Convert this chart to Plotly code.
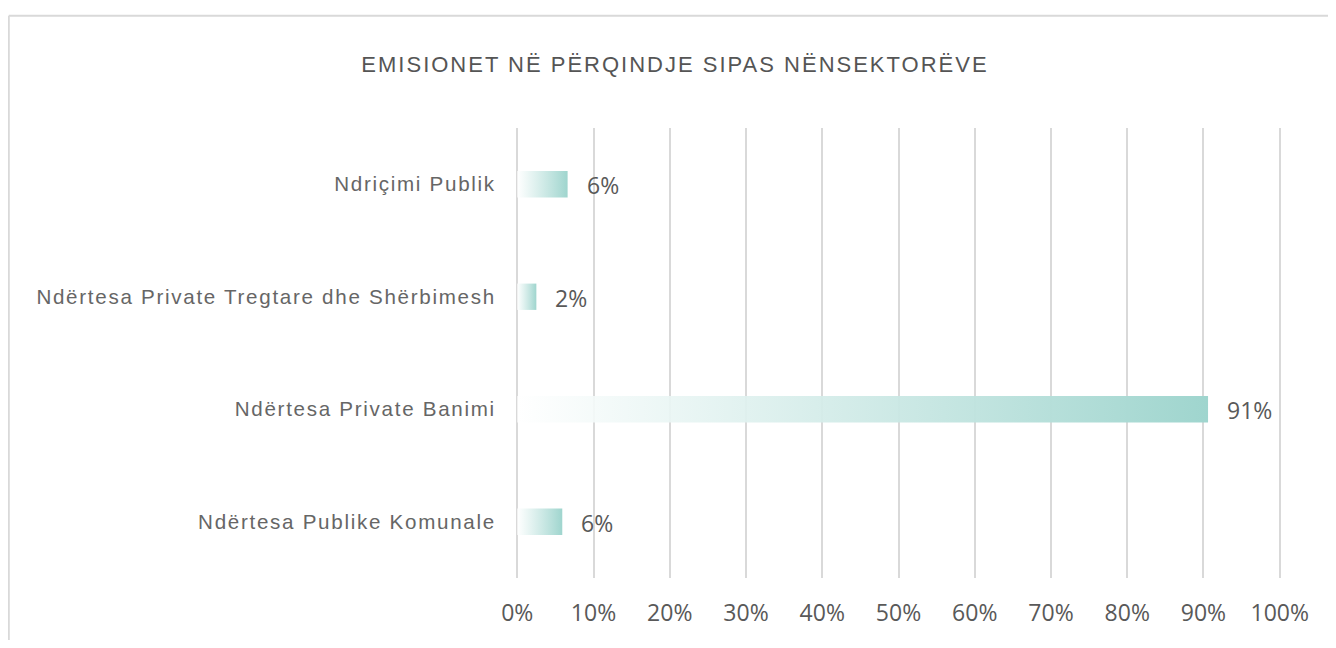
import plotly.graph_objects as go

# Emissions share by sub-sector (%), bottom to top
categories = [
    "Ndërtesa Publike Komunale",
    "Ndërtesa Private Banimi",
    "Ndërtesa Private Tregtare dhe Shërbimesh",
    "Ndriçimi Publik",
]
values = [5.9, 90.6, 2.5, 6.6]
labels = ["6%", "91%", "2%", "6%"]
x_ticks = list(range(0, 101, 10))
x_ticktext = [f"{t}%" for t in x_ticks]

half = 0.117  # half bar thickness in category units
bar_scale = [[0, "rgba(255,255,255,0.9)"], [1, "#9fd5ce"]]


def spaced(s, px):
    return f'<span style="letter-spacing:{px}px">{s}</span>'


fig = go.Figure()

for i, (v, lab) in enumerate(zip(values, labels)):
    fig.add_trace(go.Scatter(
        x=[0, v, v, 0, 0],
        y=[i - half, i - half, i + half, i + half, i - half],
        mode="lines",
        line=dict(width=0),
        fill="toself",
        fillgradient=dict(type="horizontal", colorscale=bar_scale),
        hoverinfo="skip",
        showlegend=False,
    ))
    fig.add_annotation(
        x=v, y=i, text=lab, showarrow=False,
        xanchor="left", xshift=17, yshift=-1,
        font=dict(family="Open Sans", size=23, color="#595959"),
    )

# outer frame (top and left edges visible)
fig.add_shape(type="line", xref="paper", yref="paper",
              x0=-0.660, x1=1.2, y0=1.2495, y1=1.2495,
              line=dict(color="#d9d9d9", width=2))
fig.add_shape(type="line", xref="paper", yref="paper",
              x0=-0.660, x1=-0.660, y0=1.2495, y1=-0.3,
              line=dict(color="#d9d9d9", width=2))

fig.update_layout(
    width=1320, height=632,
    margin=dict(l=507, r=46, t=120, b=57),
    paper_bgcolor="white",
    plot_bgcolor="white",
    title=dict(
        text=spaced("EMISIONET NË PËRQINDJE SIPAS NËNSEKTORËVE", 2.0),
        x=0.5053, xref="container", xanchor="center",
        y=1 - 56 / 632, yanchor="middle",
        font=dict(family="Liberation Sans", size=22, color="#555555"),
    ),
    xaxis=dict(
        range=[-0.3, 100.3],
        tickvals=x_ticks, ticktext=x_ticktext,
        showgrid=True, gridcolor="#d9d9d9", gridwidth=2,
        zeroline=False, showline=False,
        ticks="outside", ticklen=0, ticklabelstandoff=14,
        tickfont=dict(family="Open Sans", size=23, color="#595959"),
        fixedrange=True,
    ),
    yaxis=dict(
        range=[-0.5, 3.5],
        tickvals=list(range(len(categories))),
        ticktext=[spaced(c, 1.7) for c in categories],
        showgrid=False, zeroline=False, showline=False,
        ticks="outside", ticklen=0, ticklabelstandoff=14,
        tickfont=dict(family="Liberation Sans", size=20.6, color="#666666"),
        fixedrange=True,
    ),
)

fig.write_html("out.html")
